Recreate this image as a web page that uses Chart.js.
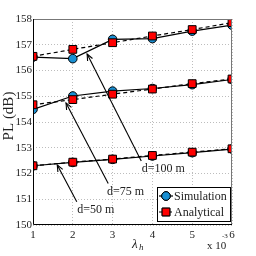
<!DOCTYPE html>
<html>
<head>
<meta charset="utf-8">
<script src="https://cdn.jsdelivr.net/npm/chart.js@4.4.0/dist/chart.umd.min.js"></script>
<style>
  html, body { margin: 0; padding: 0; background: #fff; }
  #wrap { width: 256px; height: 256px; }
</style>
</head>
<body>
<div id="wrap"><canvas id="pl" width="256" height="256"></canvas></div>
<script>
  // lambda_h values (x 10^-3)
  const lambdaH = [1, 2, 3, 4, 5, 6];

  // path loss in dB
  const sim100 = [156.52, 156.46, 157.21, 157.24, 157.53, 157.76];
  const ana100 = [156.55, 156.82, 157.08, 157.34, 157.59, 157.86];
  const sim75  = [154.49, 155.01, 155.20, 155.30, 155.45, 155.65];
  const ana75  = [154.67, 154.87, 155.08, 155.28, 155.49, 155.67];
  const sim50  = [152.30, 152.43, 152.55, 152.68, 152.81, 152.95];
  const ana50  = [152.30, 152.44, 152.56, 152.70, 152.83, 152.96];

  // annotations: label, arrow tail, arrow tip, text anchor (data coords)
  const notes = [
    { text: 'd=100 m', tail: [3.72, 152.49], tip: [2.36, 156.64], at: [3.73, 152.17] },
    { text: 'd=75 m',  tail: [2.89, 151.61], tip: [1.83, 154.74], at: [2.86, 151.29] },
    { text: 'd=50 m',  tail: [2.10, 150.90], tip: [1.61, 152.33], at: [2.11, 150.58] },
  ];

  const SERIF = '"Liberation Serif", "Times New Roman", serif';
  const BLUE = '#1a8fd2';
  const RED = '#ff0000';

  const pts = ys => ys.map((y, i) => ({ x: lambdaH[i], y: y }));

  function simSet(ys) {
    return {
      data: pts(ys), order: 1,
      borderColor: '#000', borderWidth: 1.2,
      pointStyle: 'circle', pointRadius: 4.3, pointBorderWidth: 1,
      pointBackgroundColor: BLUE, pointBorderColor: '#000',
    };
  }
  function anaSet(ys) {
    return {
      data: pts(ys), order: 0,
      borderColor: '#000', borderWidth: 1.2, borderDash: [4, 3],
      pointStyle: 'rect', pointRadius: 5.5, pointBorderWidth: 1,
      pointBackgroundColor: RED, pointBorderColor: '#000',
    };
  }

  function arrow(ctx, x0, y0, x1, y1) {
    ctx.beginPath();
    ctx.moveTo(x0, y0);
    ctx.lineTo(x1, y1);
    ctx.stroke();
    const a = Math.atan2(y1 - y0, x1 - x0);
    const L = 7, w = 0.4;
    ctx.beginPath();
    ctx.moveTo(x1 - L * Math.cos(a - w), y1 - L * Math.sin(a - w));
    ctx.lineTo(x1, y1);
    ctx.lineTo(x1 - L * Math.cos(a + w), y1 - L * Math.sin(a + w));
    ctx.stroke();
  }

  const extras = {
    id: 'extras',
    afterDatasetsDraw(chart) {
      const { ctx, chartArea: ca, scales } = chart;
      const sx = scales.x, sy = scales.y;
      ctx.save();

      // frame
      ctx.lineWidth = 1;
      ctx.strokeStyle = '#777';
      ctx.beginPath();
      ctx.moveTo(ca.left, ca.top + 0.5);
      ctx.lineTo(ca.right - 0.5, ca.top + 0.5);
      ctx.lineTo(ca.right - 0.5, ca.bottom);
      ctx.stroke();
      ctx.strokeStyle = '#000';
      ctx.beginPath();
      ctx.moveTo(ca.left + 0.5, ca.top);
      ctx.lineTo(ca.left + 0.5, ca.bottom - 0.5);
      ctx.lineTo(ca.right, ca.bottom - 0.5);
      ctx.stroke();

      // arrows + labels
      ctx.strokeStyle = '#000';
      ctx.lineWidth = 1.1;
      ctx.fillStyle = '#222';
      ctx.font = '12px ' + SERIF;
      ctx.textAlign = 'left';
      ctx.textBaseline = 'middle';
      notes.forEach(n => {
        arrow(ctx,
          sx.getPixelForValue(n.tail[0]), sy.getPixelForValue(n.tail[1]),
          sx.getPixelForValue(n.tip[0]), sy.getPixelForValue(n.tip[1]));
        ctx.fillText(n.text, sx.getPixelForValue(n.at[0]), sy.getPixelForValue(n.at[1]));
      });

      // legend
      const lx = 157, ly = 187, lw = 73, lh = 34;
      ctx.fillStyle = '#fff';
      ctx.fillRect(lx, ly, lw, lh);
      ctx.lineWidth = 1;
      ctx.strokeRect(lx + 0.5, ly + 0.5, lw, lh);
      const rows = [
        { label: 'Simulation', y: ly + 9, dash: [], style: 'circle', r: 4.3, fill: BLUE },
        { label: 'Analytical', y: ly + 25, dash: [3, 2], style: 'rect', r: 5.5, fill: RED },
      ];
      rows.forEach(r => {
        ctx.setLineDash(r.dash);
        ctx.lineWidth = 1.2;
        ctx.strokeStyle = '#000';
        ctx.beginPath();
        ctx.moveTo(lx + 2, r.y);
        ctx.lineTo(lx + 16, r.y);
        ctx.stroke();
        ctx.setLineDash([]);
        ctx.fillStyle = r.fill;
        ctx.lineWidth = 1;
        Chart.helpers.drawPoint(ctx, { pointStyle: r.style, radius: r.r, borderWidth: 1 }, lx + 9, r.y);
        ctx.fill();
        ctx.stroke();
        ctx.fillStyle = '#222';
        ctx.font = '12px ' + SERIF;
        ctx.textBaseline = 'middle';
        ctx.fillText(r.label, lx + 17, r.y + 0.5);
      });

      // axis titles
      ctx.fillStyle = '#222';
      ctx.save();
      ctx.translate(9, 116);
      ctx.rotate(-Math.PI / 2);
      ctx.textAlign = 'center';
      ctx.font = '15px ' + SERIF;
      ctx.fillText('PL (dB)', 0, 0);
      ctx.restore();

      ctx.textAlign = 'left';
      ctx.font = 'italic 13px ' + SERIF;
      ctx.fillText('\u03bb', 132, 245);
      ctx.font = 'italic 9px ' + SERIF;
      ctx.fillText('h', 139, 248);

      ctx.font = '11px ' + SERIF;
      ctx.fillText('x 10', 207, 246);
      ctx.font = '7px ' + SERIF;
      ctx.fillText('-3', 222, 236);
      ctx.restore();
    }
  };

  new Chart(document.getElementById('pl'), {
    type: 'line',
    data: {
      datasets: [
        simSet(sim100), anaSet(ana100),
        simSet(sim75), anaSet(ana75),
        simSet(sim50), anaSet(ana50),
      ]
    },
    options: {
      responsive: false,
      animation: false,
      layout: { padding: { top: 19, right: 24, left: 0, bottom: 0 } },
      plugins: { legend: { display: false }, tooltip: { enabled: false } },
      elements: { line: { tension: 0 } },
      scales: {
        x: {
          type: 'linear', min: 1, max: 6,
          afterFit: s => { s.height = 31; },
          border: { display: false, dash: [1, 2] },
          grid: { color: '#bdbdbd', lineWidth: 1, drawTicks: false },
          ticks: { stepSize: 1, padding: 4, color: '#222', font: { family: SERIF, size: 11 } },
        },
        y: {
          min: 150, max: 158,
          afterFit: s => { s.width = 33; },
          border: { display: false, dash: [1, 2] },
          grid: { color: '#bdbdbd', lineWidth: 1, drawTicks: false },
          ticks: { stepSize: 1, padding: 1, color: '#222', font: { family: SERIF, size: 11 } },
        }
      }
    },
    plugins: [extras]
  });
</script>
</body>
</html>
